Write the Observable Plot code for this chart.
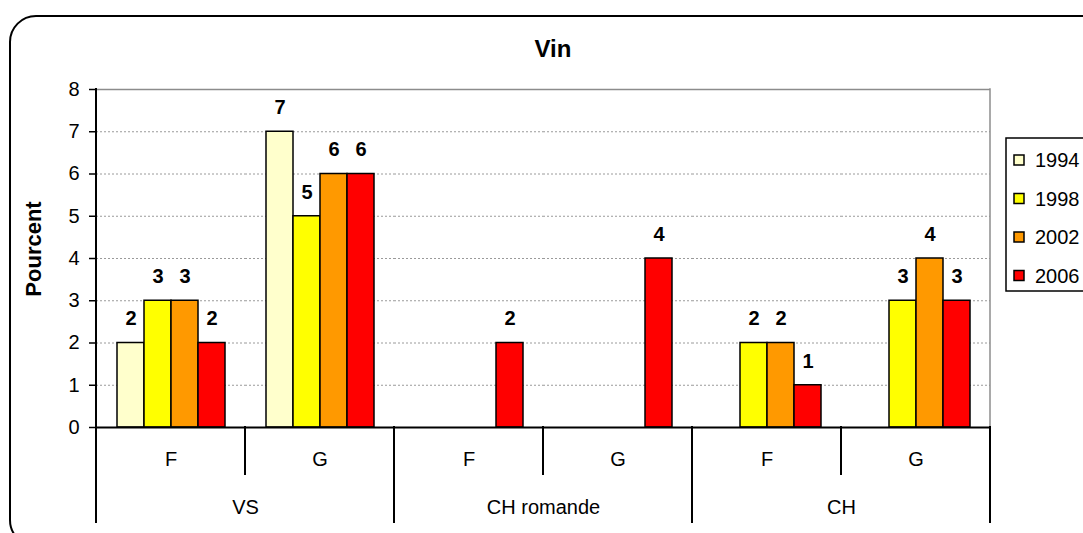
<!DOCTYPE html>
<html>
<head>
<meta charset="utf-8">
<script src="https://cdn.jsdelivr.net/npm/d3@7"></script>
<script src="https://cdn.jsdelivr.net/npm/@observablehq/plot@0.6"></script>
<style>
  html, body { margin: 0; padding: 0; background: white; }
  #chart { position: relative; width: 1083px; height: 533px; overflow: hidden; }
</style>
</head>
<body>
<div id="chart"></div>
<script>
// ---- data ----
const title = "Vin";
const yLabel = "Pourcent";
const groups = ["VS", "CH romande", "CH"];
const subgroups = ["F", "G"];
const years = ["1994", "1998", "2002", "2006"];
const colors = ["#FFFFCC", "#FFFF00", "#FF9900", "#FF0000"];
// values by subgroup order: VS F, VS G, CH romande F, CH romande G, CH F, CH G
const values1994 = [2, 7, null, null, null, null];
const values1998 = [3, 5, null, null, 2, 3];
const values2002 = [3, 6, null, null, 2, 4];
const values2006 = [2, 6, 2, 4, 1, 3];
const yTicks = [0, 1, 2, 3, 4, 5, 6, 7, 8];
const gridTicks = [1, 2, 3, 4, 5, 6, 7];

// ---- build table ----
const keys = [];
groups.forEach(g => subgroups.forEach(s => keys.push(g + "|" + s)));
const series = [values1994, values1998, values2002, values2006];
const data = [];
keys.forEach((k, i) => {
  years.forEach((yr, j) => {
    const v = series[j][i];
    if (v != null) data.push({key: k, year: yr, value: v});
  });
});
const groupLabels = groups.map(g => ({key: g + "|" + subgroups[0], label: g}));

const FONT = "'Liberation Sans', Arial, Helvetica, sans-serif";

const plot = Plot.plot({
  width: 1083,
  height: 533,
  marginLeft: 95,
  marginRight: 92,
  marginTop: 89,
  marginBottom: 106,
  style: {fontFamily: FONT, fontSize: "20px", color: "black", background: "transparent", overflow: "visible"},
  fx: {domain: keys, padding: 0, label: null},
  x: {domain: years, paddingInner: 0, paddingOuter: 0.71, axis: null},
  y: {domain: [0, 8], label: null},
  color: {domain: years, range: colors},
  marks: [
    Plot.ruleY(gridTicks, {stroke: "#9a9a9a", strokeWidth: 1, strokeDasharray: "2,2"}),
    Plot.ruleY([8], {stroke: "#8c8c8c", strokeWidth: 1.5}),
    Plot.barY(data, {fx: "key", x: "year", y: "value", fill: "year", stroke: "black", strokeWidth: 1.5}),
    Plot.text(data, {fx: "key", x: "year", y: "value", text: d => String(d.value), dy: -24, fontWeight: "bold", fontSize: 20, fill: "black"}),
    Plot.axisY({ticks: yTicks, tickSize: 7, tickPadding: 10, label: null, fontSize: 20, strokeWidth: 1.5}),
    Plot.axisFx({anchor: "bottom", tickSize: 0, tickPadding: 24, label: null, fontSize: 20, tickFormat: d => d.split("|")[1]}),
    Plot.ruleY([0], {stroke: "black", strokeWidth: 2}),
    Plot.text(groupLabels, {fx: "key", text: "label", frameAnchor: "bottom-right", lineAnchor: "middle", dy: 80, textAnchor: "middle", fontSize: 20, fill: "black"})
  ]
});

document.getElementById("chart").appendChild(plot);

// ---- decorations computed from the plot's scales ----
const svg = d3.select(plot);
const fx = plot.scale("fx");
const ys = plot.scale("y");
const bw = fx.bandwidth;
const left = fx.apply(keys[0]);
const right = fx.apply(keys[keys.length - 1]) + bw;
const yTop = ys.apply(8);
const yBase = ys.apply(0);

// rounded outer frame (behind everything)
svg.insert("rect", ":first-child")
  .attr("x", 10).attr("y", 16).attr("width", 1110).attr("height", 530)
  .attr("rx", 26).attr("ry", 26)
  .attr("fill", "white").attr("stroke", "black").attr("stroke-width", 2);

const deco = svg.append("g").attr("stroke-linecap", "square");
// right plot border (gray)
deco.append("line").attr("x1", right).attr("x2", right).attr("y1", yTop).attr("y2", yBase)
  .attr("stroke", "#8c8c8c").attr("stroke-width", 1.5);
// left axis line
deco.append("line").attr("x1", left).attr("x2", left).attr("y1", yTop).attr("y2", yBase)
  .attr("stroke", "black").attr("stroke-width", 2);
// sub-group separators
keys.forEach((k, i) => {
  if (i % 2 === 1) {
    const x = fx.apply(k);
    deco.append("line").attr("x1", x).attr("x2", x).attr("y1", yBase).attr("y2", yBase + 47)
      .attr("stroke", "black").attr("stroke-width", 2);
  }
});
// group separators
const gx = keys.filter((k, i) => i % 2 === 0).map(k => fx.apply(k)).concat([right]);
gx.forEach(x => {
  deco.append("line").attr("x1", x).attr("x2", x).attr("y1", yBase).attr("y2", yBase + 95)
    .attr("stroke", "black").attr("stroke-width", 2);
});

// title
svg.append("text").attr("x", 553).attr("y", 57).attr("text-anchor", "middle")
  .attr("font-family", FONT).attr("font-size", 24).attr("font-weight", "bold").attr("fill", "black")
  .text(title);

// y label
svg.append("text")
  .attr("transform", `translate(41,${(yTop + yBase) / 2 - 9}) rotate(-90)`)
  .attr("text-anchor", "middle")
  .attr("font-family", FONT).attr("font-size", 22).attr("font-weight", "bold").attr("fill", "black")
  .text(yLabel);

// legend
const lg = svg.append("g").attr("transform", "translate(1006,138)");
lg.append("rect").attr("x", 0).attr("y", 0).attr("width", 110).attr("height", 153)
  .attr("fill", "white").attr("stroke", "black").attr("stroke-width", 1.5);
years.forEach((yr, i) => {
  const cy = 22 + i * 38.5;
  lg.append("rect").attr("x", 8).attr("y", cy - 5).attr("width", 10).attr("height", 10)
    .attr("fill", colors[i]).attr("stroke", "black").attr("stroke-width", 1.5);
  lg.append("text").attr("x", 29).attr("y", cy).attr("dy", "0.35em")
    .attr("text-anchor", "start")
    .attr("font-family", FONT).attr("font-size", 20).attr("fill", "black").text(yr);
});
</script>
</body>
</html>
